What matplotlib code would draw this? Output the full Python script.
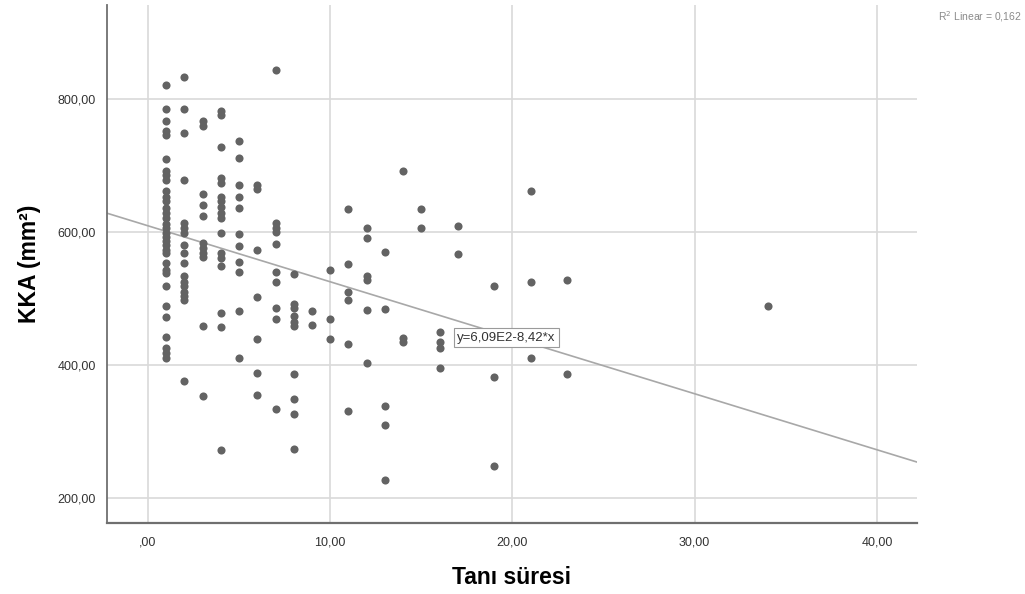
import numpy as np
import matplotlib
matplotlib.use("Agg")
import matplotlib.pyplot as plt

plt.rcParams['font.family'] = ['Liberation Sans Narrow', 'Liberation Sans', 'DejaVu Sans']

# Tanı süresi (x) ve KKA (y) değerleri, sütun sütun okunmuştur
col_x = [1, 2, 3, 4, 5, 6, 7, 8, 9, 10, 11, 12, 13, 14, 15, 16, 17, 19, 21, 23, 34]
col_y = [
    [821, 784, 766, 751, 746, 709, 692, 686, 678, 661, 653, 646, 636, 628, 620, 612,
     605, 598, 592, 586, 580, 573, 568, 553, 543, 538, 518, 488, 472, 442, 425, 418, 410],
    [833, 784, 748, 678, 613, 606, 598, 580, 568, 553, 533, 525, 518, 510, 503, 498, 376],
    [766, 759, 657, 641, 623, 583, 576, 568, 562, 459, 353],
    [782, 776, 728, 681, 674, 653, 646, 638, 629, 620, 598, 568, 561, 549, 478, 457, 272],
    [736, 711, 671, 652, 636, 597, 579, 555, 539, 481, 410],
    [670, 665, 572, 502, 439, 387, 354],
    [844, 613, 606, 600, 582, 539, 524, 486, 469, 333],
    [537, 492, 485, 473, 465, 458, 386, 348, 326, 273],
    [481, 460],
    [542, 469, 439],
    [635, 552, 510, 498, 431, 331],
    [606, 591, 533, 528, 483, 403],
    [569, 484, 338, 309, 226],
    [691, 441, 434],
    [635, 606],
    [449, 434, 425, 395],
    [609, 567],
    [519, 382, 247],
    [662, 524, 410],
    [528, 386],
    [489],
]

# regresyon doğrusu (grafikteki denklem)
intercept = 609.0
slope = -8.42
r2_text = "R$^2$ Linear = 0,162"
eq_text = "y=6,09E2-8,42*x"

x_ticks = [0, 10, 20, 30, 40]
x_tick_labels = [",00", "10,00", "20,00", "30,00", "40,00"]
y_ticks = [200, 400, 600, 800]
y_tick_labels = ["200,00", "400,00", "600,00", "800,00"]

xs, ys = [], []
for cx, vals in zip(col_x, col_y):
    xs += [cx] * len(vals)
    ys += vals

fig = plt.figure(figsize=(10.25, 5.94), dpi=100)
ax = fig.add_axes([0.1044, 0.1195, 0.7902, 0.872])

xmin, xmax = -2.25, 42.2
ymin, ymax = 162, 941

ax.grid(True, color="#d9d9d9", linewidth=1.2)
ax.set_axisbelow(True)

ax.scatter(xs, ys, s=34, color="#636363", zorder=3, linewidths=0)

line_x = np.array([xmin, xmax])
ax.plot(line_x, intercept + slope * line_x, color="#a8a8a8", linewidth=1.2, zorder=2)

ax.text(16.95, 441, eq_text, fontsize=9.5, color="#333333", va="center", ha="left", zorder=4,
        bbox=dict(boxstyle="square,pad=0.25", facecolor="white", edgecolor="#9a9a9a", linewidth=0.8))

ax.set_xlim(xmin, xmax)
ax.set_ylim(ymin, ymax)
ax.set_xticks(x_ticks)
ax.set_xticklabels(x_tick_labels)
ax.set_yticks(y_ticks)
ax.set_yticklabels(y_tick_labels)
ax.tick_params(length=0, labelsize=9, colors="#333333")
ax.tick_params(axis="x", pad=10)
ax.tick_params(axis="y", pad=8)

for s in ["top", "right"]:
    ax.spines[s].set_visible(False)
ax.spines["left"].set_color("#6f6f6f")
ax.spines["bottom"].set_color("#6f6f6f")
ax.spines["left"].set_linewidth(1.3)
ax.spines["bottom"].set_linewidth(1.6)

ax.set_xlabel("Tanı süresi", fontsize=16.5, fontweight="bold", labelpad=12, family=["Liberation Sans", "DejaVu Sans"])
ax.set_ylabel("KKA (mm²)", fontsize=16.5, fontweight="bold", labelpad=12, family=["Liberation Sans", "DejaVu Sans"])

fig.text(0.997, 0.972, r2_text, fontsize=7.5, color="#8a8a8a", ha="right", va="center")

fig.savefig("out.png", dpi=100)
